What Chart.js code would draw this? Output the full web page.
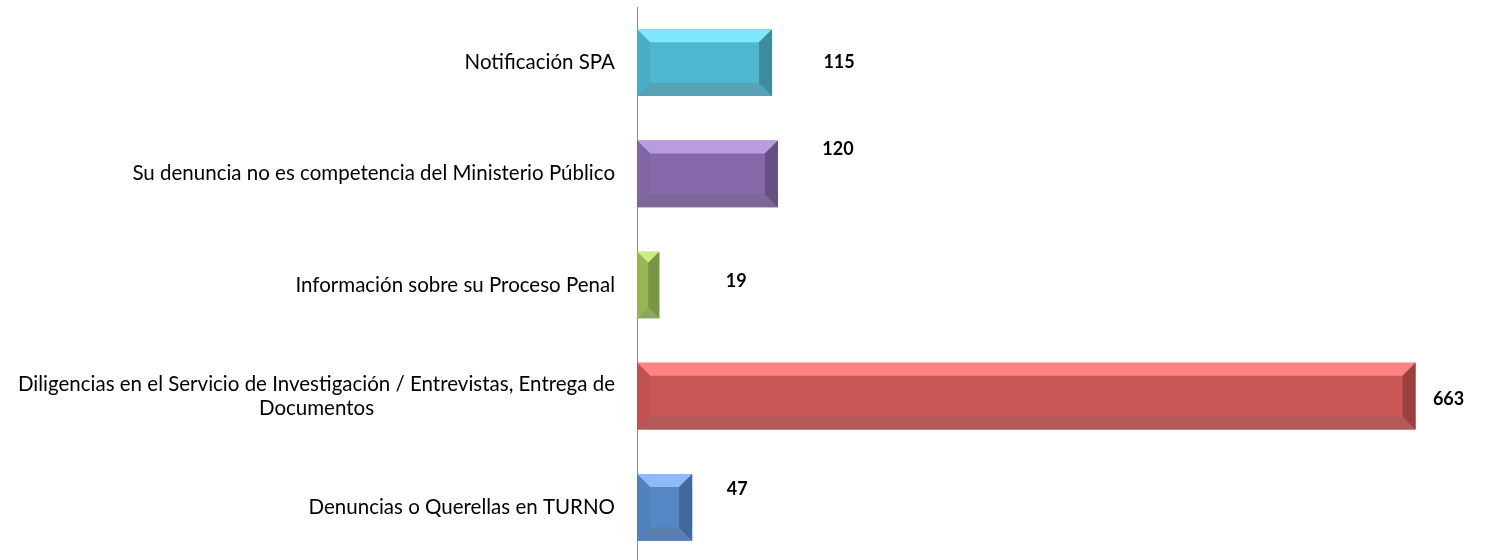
<!DOCTYPE html>
<html>
<head>
<meta charset="utf-8">
<script src="https://cdn.jsdelivr.net/npm/chart.js@4.4.1/dist/chart.umd.min.js"></script>
<style>
  html, body { margin: 0; padding: 0; background: #fff; overflow: hidden; }
  #wrap { width: 1485px; height: 563px; position: relative; }
</style>
</head>
<body>
<div id="wrap"><canvas id="chart"></canvas></div>
<script>
const categories = [
  "Notificación SPA",
  "Su denuncia no es competencia del Ministerio Público",
  "Información sobre su Proceso Penal",
  ["Diligencias en el Servicio de Investigación / Entrevistas, Entrega de", "Documentos"],
  "Denuncias o Querellas en TURNO",
];
const values = [115, 120, 19, 663, 47];

// bevel colours: face, top, left, right, bottom
const faceColors = ["#4fb6cf", "#8769ab", "#9bbb59", "#cb5856", "#5586c6"];
const topColors = ["#80e8fd", "#b89cde", "#c8ee80", "#ff8383", "#8bbcf8"];
const leftColors = ["#4aadc6", "#8065a3", "#94b654", "#c1514e", "#4f81bd"];
const rightColors = ["#3d8b9f", "#665081", "#7b9547", "#9b403e", "#3f689b"];
const bottomColors = ["#58a1b4", "#7d6797", "#8ca560", "#b05b59", "#5b80af"];

const FONT = "Lato, 'Open Sans', sans-serif";

const bevelPlugin = {
  id: "bevel",
  afterDatasetsDraw(chart) {
    const ctx = chart.ctx;
    chart.getDatasetMeta(0).data.forEach((bar, i) => {
      const l = Math.min(bar.base, bar.x);
      const r = Math.max(bar.base, bar.x);
      const t = bar.y - bar.height / 2;
      const b = bar.y + bar.height / 2;
      const d = Math.min(13, (r - l) / 2, (b - t) / 2);
      const poly = (pts, col) => {
        ctx.beginPath();
        ctx.moveTo(pts[0][0], pts[0][1]);
        pts.slice(1).forEach((p) => ctx.lineTo(p[0], p[1]));
        ctx.closePath();
        ctx.fillStyle = col;
        ctx.fill();
      };
      ctx.save();
      poly([[l, t], [r, t], [r - d, t + d], [l + d, t + d]], topColors[i]);
      poly([[l, b], [r, b], [r - d, b - d], [l + d, b - d]], bottomColors[i]);
      poly([[l, t], [l + d, t + d], [l + d, b - d], [l, b]], leftColors[i]);
      poly([[r, t], [r - d, t + d], [r - d, b - d], [r, b]], rightColors[i]);
      ctx.restore();
    });
  },
};

const labelPlugin = {
  id: "labels",
  afterDraw(chart, args, opts) {
    const ctx = chart.ctx;
    const yScale = chart.scales.y;
    ctx.save();
    ctx.fillStyle = "#000";
    ctx.textBaseline = "middle";
    // category labels, wrapped lines centred like the original
    ctx.font = "20.5px " + FONT;
    const right = chart.chartArea.left - 22;
    categories.forEach((c, i) => {
      const lines = Array.isArray(c) ? c : [c];
      const maxW = Math.max(...lines.map((s) => ctx.measureText(s).width));
      const y0 = yScale.getPixelForValue(i) - ((lines.length - 1) * opts.lineHeight) / 2;
      ctx.textAlign = "center";
      lines.forEach((s, k) => ctx.fillText(s, right - maxW / 2, y0 + k * opts.lineHeight));
    });
    // value labels
    ctx.font = "bold 18px " + FONT;
    ctx.textAlign = "center";
    chart.getDatasetMeta(0).data.forEach((bar, i) => {
      const sh = opts.shift[i];
      ctx.fillText(String(values[i]), bar.x + sh[0], bar.y + sh[1]);
    });
    ctx.restore();
  },
};

new Chart(document.getElementById("chart"), {
  type: "bar",
  data: {
    labels: categories,
    datasets: [
      {
        data: values,
        backgroundColor: faceColors,
        borderWidth: 0,
        categoryPercentage: 1,
        barPercentage: 0.6,
      },
    ],
  },
  options: {
    indexAxis: "y",
    responsive: true,
    maintainAspectRatio: false,
    animation: false,
    layout: { padding: { top: 7, right: 26, bottom: 0, left: 0 } },
    plugins: {
      legend: { display: false },
      tooltip: { enabled: false },
      labels: {
        lineHeight: 24,
        shift: [[67, 0], [60, -25], [77, -4], [33, 3], [45, -18]],
      },
    },
    scales: {
      x: { display: false, min: 0, max: 700 },
      y: {
        afterFit(s) { s.width = 637; },
        grid: { display: false },
        border: { display: true, color: "#8c8c8c", width: 1 },
        ticks: { display: false },
      },
    },
  },
  plugins: [bevelPlugin, labelPlugin],
});
</script>
</body>
</html>
